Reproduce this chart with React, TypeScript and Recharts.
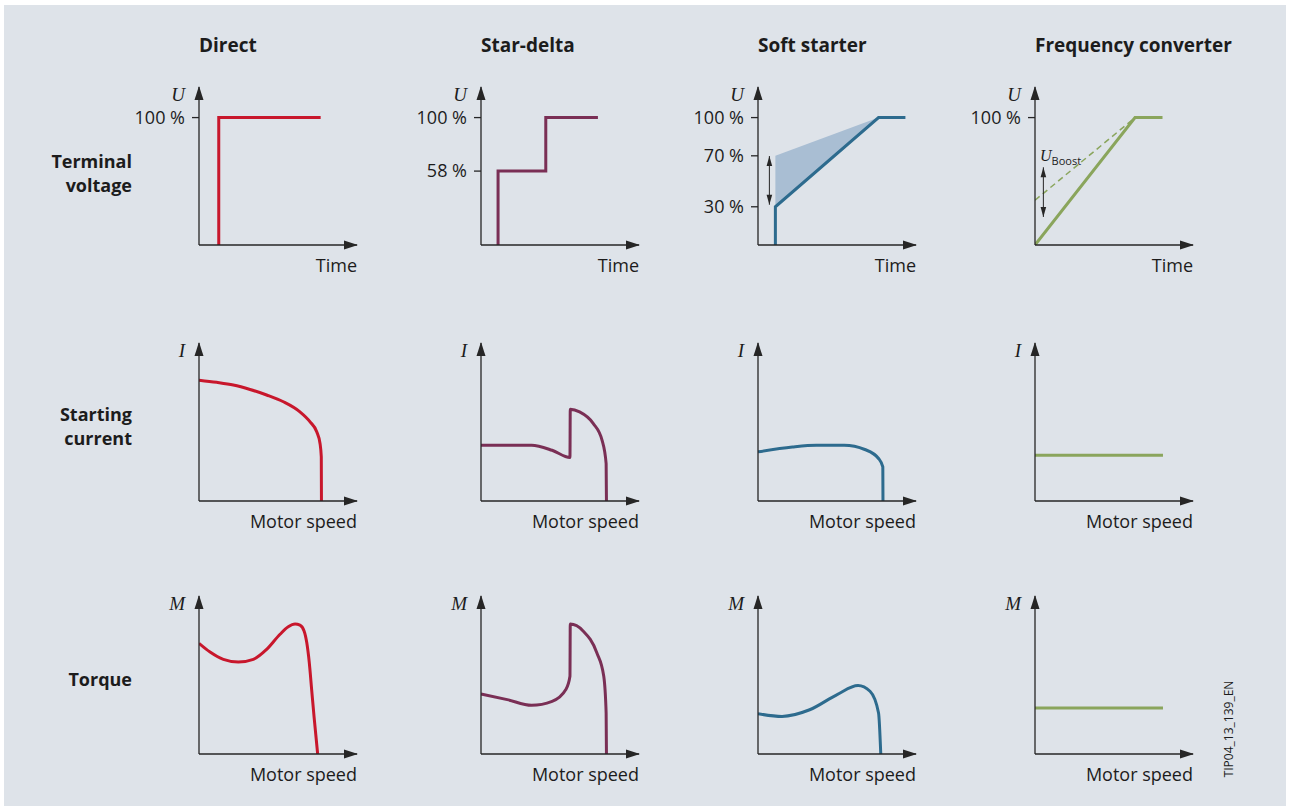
import React from "react";
import { ComposedChart, Line, Area, XAxis, YAxis, ReferenceDot, ReferenceLine } from "recharts";

// column / row headings
const methods = ["Direct", "Star-delta", "Soft starter", "Frequency converter"];
const quantities = [["Terminal", "voltage"], ["Starting", "current"], ["Torque"]];
const symbols = ["U", "I", "M"];
const xNames = ["Time", "Motor speed", "Motor speed"];

// terminal voltage, [time, U %]
const directU = [[12.5, 0], [12.5, 100], [77, 100]];
const starDeltaU = [[10.8, 0], [10.8, 58], [41, 58], [41, 100], [74, 100]];
const softU = [[11, 0], [11, 30], [76.3, 100], [93.3, 100]];
const softBand = [[11, 30, 70], [76.3, 100, 100]];
const softRange = [[7.2, 31.6], [7.2, 69.8]];
const freqU = [[0, 0], [63.3, 100], [80.7, 100]];
const freqBoost = [[0, 35.1], [63.3, 100]];
const boostRange = [[5.3, 22], [5.3, 61]];
const boostLabelAt = [3.2, 66];

const directTicks = [100];
const starDeltaTicks = [58, 100];
const softTicks = [30, 70, 100];
const freqTicks = [100];

// starting current, [speed, I]
const directI = [[0, 76.5], [11.2, 75.1], [21.7, 73.4], [32.3, 70.6], [42.8, 67.1], [53.4, 62.8], [63.9, 56.4], [70.3, 50.1], [74.5, 43.8], [76.6, 36.4], [77.4, 27.9], [77.5, 0]];
const starDeltaI = [[0, 35.3], [32, 35.3], [45, 32.1], [56.3, 27.5], [56.5, 58.1], [62.4, 56.4], [71.1, 49], [76.6, 38.5], [79.2, 23.7], [79.4, 0]];
const softI = [[0, 31.1], [21.8, 34.2], [37, 35.3], [54.5, 35.3], [67.6, 32.6], [76.3, 26.9], [79, 21.6], [79.1, 0]];
const freqI = [[0, 29], [81, 29]];

// torque, [speed, M]
const directM = [[0, 70], [7, 64.5], [15.4, 59.9], [24.9, 58.2], [34.4, 59.9], [42.8, 66.2], [51.3, 75.8], [56.5, 80.5], [60.8, 82.2], [63.9, 81.5], [66.5, 77.9], [68.2, 70.5], [69.8, 57.8], [71.3, 40.8], [72.8, 23.8], [75.1, 0]];
const starDeltaM = [[0, 38], [16.6, 34.4], [32, 30.8], [45, 33.3], [53.7, 40.8], [56.3, 49.2], [56.5, 82.2], [64.6, 77.9], [73.3, 64.1], [77.7, 49.2], [79.2, 25.9], [79.4, 0]];
const softM = [[0, 25.5], [15.2, 23.8], [32.7, 28], [50.1, 37.6], [63.3, 43.3], [70.9, 39.7], [76.3, 25.9], [77.7, 0]];
const freqM = [[0, 29.1], [81, 29.1]];

const RED = "#c8172c";
const PURPLE = "#7a2f55";
const BLUE = "#2d6b8e";
const GREEN = "#8aa55c";
const BAND = "#a9bed3";
const BG = "#dee3e9";
const AXIS = "#262626";
const TEXT = "#1c1c1c";
const SANS = "'Open Sans', 'Noto Sans', sans-serif";
const SERIF = "'Liberation Serif', 'DejaVu Serif', serif";

const COLS = [199, 481, 758, 1035];
const ROWS = [86.5, 342.5, 596];
const PW = 158;
const PH = 158;
const ML = 110, MT = 24, MR = 16, MB = 40;

const pts = (a: number[][]) => a.map(([s, v]) => ({ s, v }));

// arrow head at the end of the x axis, with the axis name under it
const xArrow = (name: string) => (p: any) => (
  <g>
    <polygon points={`${p.cx + 1},${p.cy} ${p.cx - 13},${p.cy - 4.5} ${p.cx - 13},${p.cy + 4.5}`} fill={AXIS} />
    <text x={p.cx} y={p.cy + 27} textAnchor="end" fontFamily={SANS} fontSize={18} fill={TEXT}>{name}</text>
  </g>
);
// arrow head at the top of the y axis, with the quantity symbol beside it
const yArrow = (sym: string) => (p: any) => (
  <g>
    <polygon points={`${p.cx},${p.cy - 1} ${p.cx - 4.5},${p.cy + 13} ${p.cx + 4.5},${p.cy + 13}`} fill={AXIS} />
    <text x={p.cx - 14} y={p.cy + 14} textAnchor="end" fontFamily={SERIF} fontStyle="italic" fontSize={19} fill={TEXT}>{sym}</text>
  </g>
);
const yTick = (v: number) => (p: any) => (
  <g>
    <line x1={p.cx - 7} x2={p.cx} y1={p.cy} y2={p.cy} stroke={AXIS} strokeWidth={1.3} />
    <text x={p.cx - 14} y={p.cy + 6} textAnchor="end" fontFamily={SANS} fontSize={18} fill={TEXT}>{`${v} %`}</text>
  </g>
);
const SmallUp = (p: any) => (
  <polygon points={`${p.cx},${p.cy} ${p.cx - 2.8},${p.cy + 10} ${p.cx + 2.8},${p.cy + 10}`} fill={AXIS} />
);
const SmallDown = (p: any) => (
  <polygon points={`${p.cx},${p.cy} ${p.cx - 2.8},${p.cy - 10} ${p.cx + 2.8},${p.cy - 10}`} fill={AXIS} />
);
const BoostLabel = (p: any) => (
  <text x={p.cx} y={p.cy} fill={TEXT}>
    <tspan fontFamily={SERIF} fontStyle="italic" fontSize={16}>U</tspan>
    <tspan fontFamily={SANS} fontSize={11} dy={4}>Boost</tspan>
  </text>
);

function Panel({ col, row, yMax, ticks, children }: any) {
  return (
    <div style={{ position: "absolute", left: COLS[col] - ML, top: ROWS[row] - MT }}>
      <ComposedChart width={ML + PW + MR} height={MT + PH + MB} margin={{ top: MT, right: MR, bottom: MB, left: ML }}>
        <XAxis type="number" dataKey="s" domain={[0, 100]} allowDataOverflow hide />
        <YAxis type="number" domain={[0, yMax]} allowDataOverflow hide />
        {children}
        <ReferenceLine y={0} stroke={AXIS} strokeWidth={1.3} />
        <ReferenceLine x={0} stroke={AXIS} strokeWidth={1.3} />
        {(ticks || []).map((t: number) => (
          <ReferenceDot key={`t${t}`} x={0} y={t} r={0} shape={yTick(t)} />
        ))}
        <ReferenceDot x={100} y={0} r={0} shape={xArrow(xNames[row])} />
        <ReferenceDot x={0} y={yMax} r={0} shape={yArrow(symbols[row])} />
      </ComposedChart>
    </div>
  );
}

const curve = (data: number[][], color: string, smooth = false, key = "c") => (
  <Line
    key={key}
    data={pts(data)}
    dataKey="v"
    type={smooth ? "monotone" : "linear"}
    stroke={color}
    strokeWidth={3}
    strokeLinejoin="miter"
    dot={false}
    activeDot={false}
    isAnimationActive={false}
  />
);

export default function App() {
  const band = softBand.map(([s, lo, hi]) => ({ s, band: [lo, hi] }));
  return (
    <div style={{ position: "absolute", left: 0, top: 0, width: 1290, height: 810, background: "#fff", overflow: "hidden" }}>
      <div style={{ position: "absolute", left: 4, top: 5, width: 1282, height: 801, background: BG }} />

      {methods.map((m, i) => (
        <div key={m} style={{ position: "absolute", left: COLS[i], top: 33, font: `bold 19px ${SANS}`, lineHeight: "24px", color: TEXT, whiteSpace: "nowrap" }}>
          {m}
        </div>
      ))}
      {quantities.map((q, i) => (
        <div key={q[0]} style={{ position: "absolute", right: 1290 - 132, top: [149, 402, 667][i], font: `bold 18px ${SANS}`, lineHeight: "24px", color: TEXT, textAlign: "right", whiteSpace: "nowrap" }}>
          {q.map((l) => <div key={l}>{l}</div>)}
        </div>
      ))}
      <div style={{ position: "absolute", left: 1229 - 60, top: 729 - 8, width: 120, height: 16, textAlign: "center", font: `12px ${SANS}`, color: TEXT, transform: "rotate(-90deg)", lineHeight: "16px" }}>
        TIP04_13_139_EN
      </div>

      {/* terminal voltage */}
      <Panel col={0} row={0} yMax={124} ticks={directTicks}>{curve(directU, RED)}</Panel>
      <Panel col={1} row={0} yMax={124} ticks={starDeltaTicks}>{curve(starDeltaU, PURPLE)}</Panel>
      <Panel col={2} row={0} yMax={124} ticks={softTicks}>
        <Area key="band" data={band} dataKey="band" type="linear" stroke="none" fill={BAND} fillOpacity={1} isAnimationActive={false} activeDot={false} />
        {curve(softU, BLUE, false, "u")}
        <ReferenceLine key="rl" segment={softRange.map(([x, y]) => ({ x, y }))} stroke={AXIS} strokeWidth={1} />
        <ReferenceDot key="a1" x={softRange[1][0]} y={softRange[1][1]} r={0} shape={SmallUp} />
        <ReferenceDot key="a2" x={softRange[0][0]} y={softRange[0][1]} r={0} shape={SmallDown} />
      </Panel>
      <Panel col={3} row={0} yMax={124} ticks={freqTicks}>
        <Line key="boost" data={pts(freqBoost)} dataKey="v" type="linear" stroke={GREEN} strokeWidth={1.5} strokeDasharray="6 4" dot={false} activeDot={false} isAnimationActive={false} />
        {curve(freqU, GREEN, false, "u")}
        <ReferenceLine key="rl" segment={boostRange.map(([x, y]) => ({ x, y }))} stroke={AXIS} strokeWidth={1} />
        <ReferenceDot key="a1" x={boostRange[1][0]} y={boostRange[1][1]} r={0} shape={SmallUp} />
        <ReferenceDot key="a2" x={boostRange[0][0]} y={boostRange[0][1]} r={0} shape={SmallDown} />
        <ReferenceDot key="lbl" x={boostLabelAt[0]} y={boostLabelAt[1]} r={0} shape={BoostLabel} />
      </Panel>

      {/* starting current */}
      <Panel col={0} row={1} yMax={100}>{curve(directI, RED, true)}</Panel>
      <Panel col={1} row={1} yMax={100}>{curve(starDeltaI, PURPLE, true)}</Panel>
      <Panel col={2} row={1} yMax={100}>{curve(softI, BLUE, true)}</Panel>
      <Panel col={3} row={1} yMax={100}>{curve(freqI, GREEN)}</Panel>

      {/* torque */}
      <Panel col={0} row={2} yMax={100}>{curve(directM, RED, true)}</Panel>
      <Panel col={1} row={2} yMax={100}>{curve(starDeltaM, PURPLE, true)}</Panel>
      <Panel col={2} row={2} yMax={100}>{curve(softM, BLUE, true)}</Panel>
      <Panel col={3} row={2} yMax={100}>{curve(freqM, GREEN)}</Panel>
    </div>
  );
}
